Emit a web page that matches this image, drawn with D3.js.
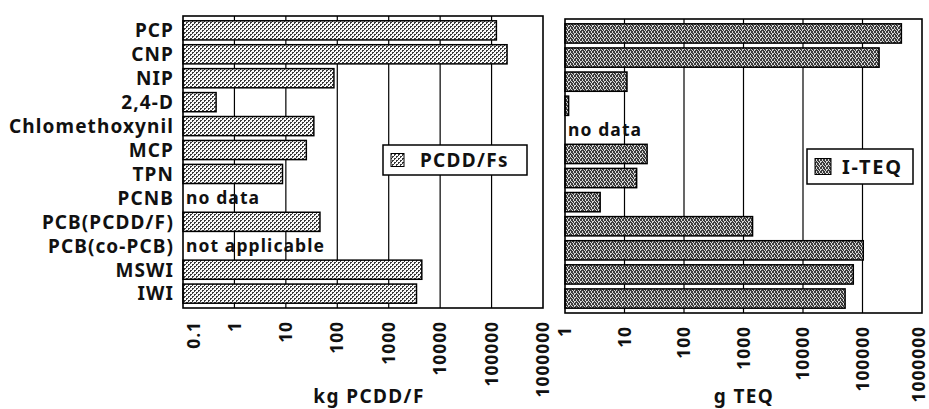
<!DOCTYPE html>
<html><head><meta charset="utf-8">
<script src="https://cdn.jsdelivr.net/npm/d3@7"></script>
<style>
body{margin:0;background:#fff;}
svg{display:block;}
text{font-family:"Noto Sans","DejaVu Sans",sans-serif;font-weight:700;fill:#111;}
</style></head>
<body><svg id="c" width="929" height="409"></svg>
<script>
const categories = ["PCP","CNP","NIP","2,4-D","Chlomethoxynil","MCP","TPN","PCNB","PCB(PCDD/F)","PCB(co-PCB)","MSWI","IWI"];
const pcddValues = [124000, 200000, 86, 0.44, 35, 25, 8.6, null, 46, null, 4400, 3470];
const pcddNotes  = [null,null,null,null,null,null,null,"no data",null,"not applicable",null,null];
const teqValues  = [450000, 190000, 11, 1.15, null, 24, 16, 3.9, 1420, 103000, 70000, 51000];
const teqNotes   = [null,null,null,null,"no data",null,null,null,null,null,null,null];
const leftTicks  = [0.1, 1, 10, 100, 1000, 10000, 100000, 1000000];
const leftTickLabels = ["0.1","1","10","100","1000","10000","100000","1000000"];
const rightTicks = [1, 10, 100, 1000, 10000, 100000, 1000000];
const rightTickLabels = ["1","10","100","1000","10000","100000","1000000"];
const leftTitle = "kg PCDD/F", rightTitle = "g TEQ";
const leftLegend = "PCDD/Fs", rightLegend = "I-TEQ";

const svg = d3.select("#c");
const defs = svg.append("defs");
// light checker pattern
const p1 = defs.append("pattern").attr("id","pLight").attr("width",4).attr("height",4).attr("patternUnits","userSpaceOnUse");
p1.append("rect").attr("width",4).attr("height",4).attr("fill","#fafafa");
[[0,0],[1,0],[0,1],[2,2],[3,2],[2,3]].forEach(([x,y])=>
  p1.append("rect").attr("x",x).attr("y",y).attr("width",1).attr("height",1).attr("fill","#3a3a3a"));
// dark noisy pattern
const p2 = defs.append("pattern").attr("id","pDark").attr("width",6).attr("height",4).attr("patternUnits","userSpaceOnUse");
p2.append("rect").attr("width",6).attr("height",4).attr("fill","#3c3c3c");
[[0,0],[3,0],[1,1],[4,1],[5,1],[2,2],[0,3],[3,3],[4,2]].forEach(([x,y])=>
  p2.append("rect").attr("x",x).attr("y",y).attr("width",1).attr("height",1).attr("fill","#d8d8d8"));

function panel(opt){
  const x = d3.scaleLog().domain(opt.domain).range([opt.x0, opt.x1]);
  const y = d3.scaleBand().domain(categories).range([opt.y0, opt.y1]).paddingInner(0.2).paddingOuter(0.2);
  const g = svg.append("g");
  g.selectAll("line.grid").data(opt.ticks.slice(1,-1)).join("line")
    .attr("x1",d=>x(d)).attr("x2",d=>x(d)).attr("y1",opt.y0).attr("y2",opt.y1)
    .attr("stroke","#000").attr("stroke-width",1.2);
  g.selectAll("rect.bar").data(categories.map((c,i)=>({c,v:opt.values[i]})).filter(d=>d.v!=null)).join("rect")
    .attr("x",opt.x0).attr("y",d=>y(d.c)).attr("width",d=>x(d.v)-opt.x0).attr("height",y.bandwidth())
    .attr("fill",opt.fill).attr("stroke","#000").attr("stroke-width",1.5);
  g.selectAll("text.note").data(categories.map((c,i)=>({c,n:opt.notes[i]})).filter(d=>d.n)).join("text")
    .attr("x",opt.x0+3).attr("y",d=>y(d.c)+y.bandwidth()/2).attr("dy","0.35em")
    .attr("font-size",17.5).attr("letter-spacing",1.1).text(d=>d.n);
  g.append("rect").attr("x",opt.x0).attr("y",opt.y0).attr("width",opt.x1-opt.x0).attr("height",opt.y1-opt.y0)
    .attr("fill","none").attr("stroke","#000").attr("stroke-width",1.6);
  g.selectAll("text.tick").data(opt.ticks).join("text")
    .attr("transform",(d,i)=>`translate(${Math.min(x(d)+(i===0?opt.firstShift:0), 919)},${opt.y1+13}) rotate(-90)`)
    .attr("text-anchor","end").attr("dy","0.35em").attr("font-size",17.5).attr("letter-spacing",0.9)
    .text((d,i)=>opt.tickLabels[i]);
  g.append("text").attr("x",opt.titleX).attr("y",403).attr("text-anchor","middle")
    .attr("font-size",19).attr("letter-spacing",1.4).attr("font-weight",600).text(opt.title);
  const L = opt.legend;
  g.append("rect").attr("x",L.x).attr("y",L.y).attr("width",L.w).attr("height",L.h)
    .attr("fill","#fff").attr("stroke","#000").attr("stroke-width",1.5);
  g.append("rect").attr("x",L.x+L.sx).attr("y",L.y+(L.h-L.s)/2).attr("width",L.s).attr("height",L.s)
    .attr("fill",opt.fill).attr("stroke","#000").attr("stroke-width",1);
  g.append("text").attr("x",L.x+L.tx).attr("y",L.y+L.h/2).attr("dy","0.36em")
    .attr("font-size",L.fs).attr("letter-spacing",L.ls).text(L.text);
  return y;
}

const yL = panel({domain:[0.1,1000000], x0:183, x1:543, y0:16, y1:308, values:pcddValues, notes:pcddNotes,
  ticks:leftTicks, tickLabels:leftTickLabels, firstShift:11, fill:"url(#pLight)", title:leftTitle, titleX:369,
  legend:{x:383,y:145,w:144,h:30,sx:8,s:13,tx:37,fs:19,ls:1.3,text:leftLegend}});
panel({domain:[1,1000000], x0:565, x1:922, y0:19, y1:313, values:teqValues, notes:teqNotes,
  ticks:rightTicks, tickLabels:rightTickLabels, firstShift:0, fill:"url(#pDark)", title:rightTitle, titleX:744,
  legend:{x:807,y:149,w:106,h:35,sx:8,s:16,tx:35,fs:20,ls:1.8,text:rightLegend}});

svg.append("g").selectAll("text").data(categories).join("text")
  .attr("x",174).attr("y",d=>yL(d)+yL.bandwidth()/2).attr("dy","0.36em")
  .attr("text-anchor","end").attr("font-size",19).attr("letter-spacing",1.1).text(d=>d);
</script></body></html>
